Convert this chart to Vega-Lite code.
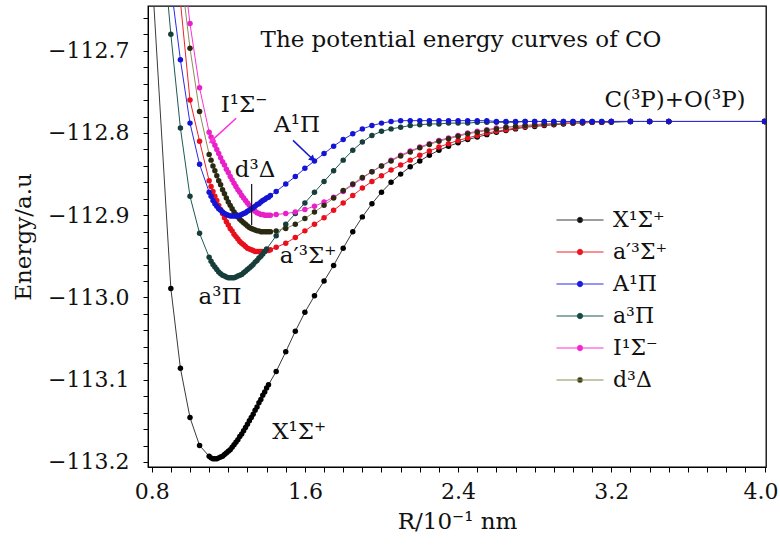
{
  "$schema": "https://vega.github.io/schema/vega-lite/v6.json",
  "width": 618,
  "height": 461,
  "autosize": {"type": "none"},
  "padding": {"left": 148, "top": 6, "right": 14, "bottom": 87},
  "background": "white",
  "config": {
    "view": {"stroke": "black", "strokeWidth": 1.3},
    "font": "DejaVu Serif",
    "axis": {"labelFont": "DejaVu Serif", "titleFont": "DejaVu Serif", "labelFontSize": 22, "titleFontSize": 23, "titleFontWeight": "normal", "labelColor": "#111", "titleColor": "#111", "tickColor": "black", "domainColor": "black", "grid": false, "tickSize": 5, "labelOverlap": false, "labelFlush": false, "labelBound": false}
  },
  "datasets": {
    "curves": [
      {"s":"X¹Σ⁺","R":0.80,"E":-112.60},{"s":"X¹Σ⁺","R":0.90,"E":-112.989},{"s":"X¹Σ⁺","R":0.95,"E":-113.086},{"s":"X¹Σ⁺","R":1.00,"E":-113.146},{"s":"X¹Σ⁺","R":1.05,"E":-113.180},
      {"s":"X¹Σ⁺","R":1.10,"E":-113.193},{"s":"X¹Σ⁺","R":1.11,"E":-113.195},{"s":"X¹Σ⁺","R":1.12,"E":-113.196},{"s":"X¹Σ⁺","R":1.13,"E":-113.196},{"s":"X¹Σ⁺","R":1.14,"E":-113.196},{"s":"X¹Σ⁺","R":1.15,"E":-113.195},{"s":"X¹Σ⁺","R":1.16,"E":-113.194},{"s":"X¹Σ⁺","R":1.17,"E":-113.193},{"s":"X¹Σ⁺","R":1.18,"E":-113.191},{"s":"X¹Σ⁺","R":1.19,"E":-113.189},{"s":"X¹Σ⁺","R":1.20,"E":-113.187},{"s":"X¹Σ⁺","R":1.21,"E":-113.185},{"s":"X¹Σ⁺","R":1.22,"E":-113.182},{"s":"X¹Σ⁺","R":1.23,"E":-113.179},{"s":"X¹Σ⁺","R":1.24,"E":-113.176},{"s":"X¹Σ⁺","R":1.25,"E":-113.173},{"s":"X¹Σ⁺","R":1.26,"E":-113.169},{"s":"X¹Σ⁺","R":1.27,"E":-113.166},{"s":"X¹Σ⁺","R":1.28,"E":-113.162},{"s":"X¹Σ⁺","R":1.29,"E":-113.158},{"s":"X¹Σ⁺","R":1.30,"E":-113.154},{"s":"X¹Σ⁺","R":1.31,"E":-113.150},{"s":"X¹Σ⁺","R":1.32,"E":-113.146},{"s":"X¹Σ⁺","R":1.33,"E":-113.142},{"s":"X¹Σ⁺","R":1.34,"E":-113.137},{"s":"X¹Σ⁺","R":1.35,"E":-113.133},{"s":"X¹Σ⁺","R":1.36,"E":-113.128},{"s":"X¹Σ⁺","R":1.37,"E":-113.124},{"s":"X¹Σ⁺","R":1.38,"E":-113.119},{"s":"X¹Σ⁺","R":1.39,"E":-113.115},{"s":"X¹Σ⁺","R":1.40,"E":-113.110},{"s":"X¹Σ⁺","R":1.41,"E":-113.106},
      {"s":"X¹Σ⁺","R":1.45,"E":-113.090},{"s":"X¹Σ⁺","R":1.50,"E":-113.066},{"s":"X¹Σ⁺","R":1.55,"E":-113.041},{"s":"X¹Σ⁺","R":1.60,"E":-113.018},{"s":"X¹Σ⁺","R":1.65,"E":-112.998},{"s":"X¹Σ⁺","R":1.70,"E":-112.980},{"s":"X¹Σ⁺","R":1.75,"E":-112.961},{"s":"X¹Σ⁺","R":1.80,"E":-112.940},{"s":"X¹Σ⁺","R":1.85,"E":-112.920},{"s":"X¹Σ⁺","R":1.90,"E":-112.902},{"s":"X¹Σ⁺","R":1.95,"E":-112.886},{"s":"X¹Σ⁺","R":2.00,"E":-112.872},{"s":"X¹Σ⁺","R":2.05,"E":-112.860},{"s":"X¹Σ⁺","R":2.10,"E":-112.850},{"s":"X¹Σ⁺","R":2.15,"E":-112.841},{"s":"X¹Σ⁺","R":2.20,"E":-112.834},{"s":"X¹Σ⁺","R":2.25,"E":-112.827},{"s":"X¹Σ⁺","R":2.30,"E":-112.821},{"s":"X¹Σ⁺","R":2.35,"E":-112.816},{"s":"X¹Σ⁺","R":2.40,"E":-112.812},{"s":"X¹Σ⁺","R":2.45,"E":-112.808},{"s":"X¹Σ⁺","R":2.50,"E":-112.805},{"s":"X¹Σ⁺","R":2.55,"E":-112.802},{"s":"X¹Σ⁺","R":2.60,"E":-112.799},{"s":"X¹Σ⁺","R":2.65,"E":-112.797},{"s":"X¹Σ⁺","R":2.70,"E":-112.795},{"s":"X¹Σ⁺","R":2.75,"E":-112.793},{"s":"X¹Σ⁺","R":2.80,"E":-112.792},{"s":"X¹Σ⁺","R":2.85,"E":-112.791},{"s":"X¹Σ⁺","R":2.90,"E":-112.790},{"s":"X¹Σ⁺","R":2.95,"E":-112.789},{"s":"X¹Σ⁺","R":3.00,"E":-112.788},{"s":"X¹Σ⁺","R":3.05,"E":-112.788},{"s":"X¹Σ⁺","R":3.10,"E":-112.787},{"s":"X¹Σ⁺","R":3.15,"E":-112.787},{"s":"X¹Σ⁺","R":3.20,"E":-112.787},{"s":"X¹Σ⁺","R":3.30,"E":-112.786},{"s":"X¹Σ⁺","R":3.40,"E":-112.786},{"s":"X¹Σ⁺","R":3.50,"E":-112.786},{"s":"X¹Σ⁺","R":4.00,"E":-112.786},

      {"s":"a′³Σ⁺","R":0.95,"E":-112.64},{"s":"a′³Σ⁺","R":1.00,"E":-112.760},{"s":"a′³Σ⁺","R":1.05,"E":-112.810},
      {"s":"a′³Σ⁺","R":1.10,"E":-112.858},{"s":"a′³Σ⁺","R":1.11,"E":-112.865},{"s":"a′³Σ⁺","R":1.12,"E":-112.871},{"s":"a′³Σ⁺","R":1.13,"E":-112.877},{"s":"a′³Σ⁺","R":1.14,"E":-112.882},{"s":"a′³Σ⁺","R":1.15,"E":-112.888},{"s":"a′³Σ⁺","R":1.16,"E":-112.893},{"s":"a′³Σ⁺","R":1.17,"E":-112.898},{"s":"a′³Σ⁺","R":1.18,"E":-112.903},{"s":"a′³Σ⁺","R":1.19,"E":-112.908},{"s":"a′³Σ⁺","R":1.20,"E":-112.912},{"s":"a′³Σ⁺","R":1.21,"E":-112.916},{"s":"a′³Σ⁺","R":1.22,"E":-112.919},{"s":"a′³Σ⁺","R":1.23,"E":-112.923},{"s":"a′³Σ⁺","R":1.24,"E":-112.926},{"s":"a′³Σ⁺","R":1.25,"E":-112.929},{"s":"a′³Σ⁺","R":1.26,"E":-112.932},{"s":"a′³Σ⁺","R":1.27,"E":-112.934},{"s":"a′³Σ⁺","R":1.28,"E":-112.936},{"s":"a′³Σ⁺","R":1.29,"E":-112.938},{"s":"a′³Σ⁺","R":1.30,"E":-112.940},{"s":"a′³Σ⁺","R":1.31,"E":-112.941},{"s":"a′³Σ⁺","R":1.32,"E":-112.942},{"s":"a′³Σ⁺","R":1.33,"E":-112.943},{"s":"a′³Σ⁺","R":1.34,"E":-112.944},{"s":"a′³Σ⁺","R":1.35,"E":-112.944},{"s":"a′³Σ⁺","R":1.36,"E":-112.944},{"s":"a′³Σ⁺","R":1.37,"E":-112.944},{"s":"a′³Σ⁺","R":1.38,"E":-112.944},{"s":"a′³Σ⁺","R":1.39,"E":-112.944},{"s":"a′³Σ⁺","R":1.40,"E":-112.943},{"s":"a′³Σ⁺","R":1.41,"E":-112.943},{"s":"a′³Σ⁺","R":1.42,"E":-112.942},
      {"s":"a′³Σ⁺","R":1.45,"E":-112.939},{"s":"a′³Σ⁺","R":1.50,"E":-112.934},{"s":"a′³Σ⁺","R":1.55,"E":-112.927},{"s":"a′³Σ⁺","R":1.60,"E":-112.919},{"s":"a′³Σ⁺","R":1.65,"E":-112.911},{"s":"a′³Σ⁺","R":1.70,"E":-112.903},{"s":"a′³Σ⁺","R":1.75,"E":-112.894},{"s":"a′³Σ⁺","R":1.80,"E":-112.885},{"s":"a′³Σ⁺","R":1.85,"E":-112.876},{"s":"a′³Σ⁺","R":1.90,"E":-112.867},{"s":"a′³Σ⁺","R":1.95,"E":-112.859},{"s":"a′³Σ⁺","R":2.00,"E":-112.852},{"s":"a′³Σ⁺","R":2.05,"E":-112.845},{"s":"a′³Σ⁺","R":2.10,"E":-112.839},{"s":"a′³Σ⁺","R":2.15,"E":-112.833},{"s":"a′³Σ⁺","R":2.20,"E":-112.827},{"s":"a′³Σ⁺","R":2.25,"E":-112.822},{"s":"a′³Σ⁺","R":2.30,"E":-112.817},{"s":"a′³Σ⁺","R":2.35,"E":-112.813},{"s":"a′³Σ⁺","R":2.40,"E":-112.809},{"s":"a′³Σ⁺","R":2.45,"E":-112.806},{"s":"a′³Σ⁺","R":2.50,"E":-112.803},{"s":"a′³Σ⁺","R":2.55,"E":-112.800},{"s":"a′³Σ⁺","R":2.60,"E":-112.798},{"s":"a′³Σ⁺","R":2.65,"E":-112.796},{"s":"a′³Σ⁺","R":2.70,"E":-112.794},{"s":"a′³Σ⁺","R":2.75,"E":-112.792},{"s":"a′³Σ⁺","R":2.80,"E":-112.791},{"s":"a′³Σ⁺","R":2.85,"E":-112.790},{"s":"a′³Σ⁺","R":2.90,"E":-112.789},{"s":"a′³Σ⁺","R":2.95,"E":-112.788},{"s":"a′³Σ⁺","R":3.00,"E":-112.788},{"s":"a′³Σ⁺","R":3.05,"E":-112.787},{"s":"a′³Σ⁺","R":3.10,"E":-112.787},{"s":"a′³Σ⁺","R":3.15,"E":-112.787},{"s":"a′³Σ⁺","R":3.20,"E":-112.786},{"s":"a′³Σ⁺","R":3.30,"E":-112.786},{"s":"a′³Σ⁺","R":3.40,"E":-112.786},{"s":"a′³Σ⁺","R":3.50,"E":-112.786},{"s":"a′³Σ⁺","R":4.00,"E":-112.786},

      {"s":"a³Π","R":0.85,"E":-112.55},{"s":"a³Π","R":0.90,"E":-112.680},{"s":"a³Π","R":0.95,"E":-112.794},{"s":"a³Π","R":1.00,"E":-112.877},{"s":"a³Π","R":1.05,"E":-112.922},
      {"s":"a³Π","R":1.10,"E":-112.951},{"s":"a³Π","R":1.11,"E":-112.956},{"s":"a³Π","R":1.12,"E":-112.960},{"s":"a³Π","R":1.13,"E":-112.963},{"s":"a³Π","R":1.14,"E":-112.966},{"s":"a³Π","R":1.15,"E":-112.969},{"s":"a³Π","R":1.16,"E":-112.971},{"s":"a³Π","R":1.17,"E":-112.973},{"s":"a³Π","R":1.18,"E":-112.974},{"s":"a³Π","R":1.19,"E":-112.975},{"s":"a³Π","R":1.20,"E":-112.976},{"s":"a³Π","R":1.21,"E":-112.976},{"s":"a³Π","R":1.22,"E":-112.976},{"s":"a³Π","R":1.23,"E":-112.976},{"s":"a³Π","R":1.24,"E":-112.975},{"s":"a³Π","R":1.25,"E":-112.974},{"s":"a³Π","R":1.26,"E":-112.973},{"s":"a³Π","R":1.27,"E":-112.972},{"s":"a³Π","R":1.28,"E":-112.970},{"s":"a³Π","R":1.29,"E":-112.968},{"s":"a³Π","R":1.30,"E":-112.966},{"s":"a³Π","R":1.31,"E":-112.964},{"s":"a³Π","R":1.32,"E":-112.962},{"s":"a³Π","R":1.33,"E":-112.960},{"s":"a³Π","R":1.34,"E":-112.957},{"s":"a³Π","R":1.35,"E":-112.955},{"s":"a³Π","R":1.36,"E":-112.952},{"s":"a³Π","R":1.37,"E":-112.950},{"s":"a³Π","R":1.38,"E":-112.947},{"s":"a³Π","R":1.39,"E":-112.944},{"s":"a³Π","R":1.40,"E":-112.941},
      {"s":"a³Π","R":1.45,"E":-112.925},{"s":"a³Π","R":1.50,"E":-112.911},{"s":"a³Π","R":1.55,"E":-112.898},{"s":"a³Π","R":1.60,"E":-112.885},{"s":"a³Π","R":1.65,"E":-112.872},{"s":"a³Π","R":1.70,"E":-112.859},{"s":"a³Π","R":1.75,"E":-112.846},{"s":"a³Π","R":1.80,"E":-112.833},{"s":"a³Π","R":1.85,"E":-112.821},{"s":"a³Π","R":1.90,"E":-112.811},{"s":"a³Π","R":1.95,"E":-112.803},{"s":"a³Π","R":2.00,"E":-112.798},{"s":"a³Π","R":2.05,"E":-112.795},{"s":"a³Π","R":2.10,"E":-112.793},{"s":"a³Π","R":2.15,"E":-112.791},{"s":"a³Π","R":2.20,"E":-112.790},{"s":"a³Π","R":2.25,"E":-112.789},{"s":"a³Π","R":2.30,"E":-112.789},{"s":"a³Π","R":2.35,"E":-112.788},{"s":"a³Π","R":2.40,"E":-112.788},{"s":"a³Π","R":2.45,"E":-112.788},{"s":"a³Π","R":2.50,"E":-112.787},{"s":"a³Π","R":2.55,"E":-112.787},{"s":"a³Π","R":2.60,"E":-112.787},{"s":"a³Π","R":2.65,"E":-112.787},{"s":"a³Π","R":2.70,"E":-112.787},{"s":"a³Π","R":2.75,"E":-112.786},{"s":"a³Π","R":2.80,"E":-112.786},{"s":"a³Π","R":2.85,"E":-112.786},{"s":"a³Π","R":2.90,"E":-112.786},{"s":"a³Π","R":2.95,"E":-112.786},{"s":"a³Π","R":3.00,"E":-112.786},{"s":"a³Π","R":3.05,"E":-112.786},{"s":"a³Π","R":3.10,"E":-112.786},{"s":"a³Π","R":3.15,"E":-112.786},{"s":"a³Π","R":3.20,"E":-112.786},{"s":"a³Π","R":3.30,"E":-112.786},{"s":"a³Π","R":3.40,"E":-112.786},{"s":"a³Π","R":3.50,"E":-112.786},{"s":"a³Π","R":4.00,"E":-112.786},

      {"s":"I¹Σ⁻","R":0.95,"E":-112.57},{"s":"I¹Σ⁻","R":1.00,"E":-112.667},{"s":"I¹Σ⁻","R":1.05,"E":-112.745},
      {"s":"I¹Σ⁻","R":1.10,"E":-112.799},{"s":"I¹Σ⁻","R":1.11,"E":-112.805},{"s":"I¹Σ⁻","R":1.12,"E":-112.810},{"s":"I¹Σ⁻","R":1.13,"E":-112.815},{"s":"I¹Σ⁻","R":1.14,"E":-112.820},{"s":"I¹Σ⁻","R":1.15,"E":-112.825},{"s":"I¹Σ⁻","R":1.16,"E":-112.830},{"s":"I¹Σ⁻","R":1.17,"E":-112.835},{"s":"I¹Σ⁻","R":1.18,"E":-112.839},{"s":"I¹Σ⁻","R":1.19,"E":-112.844},{"s":"I¹Σ⁻","R":1.20,"E":-112.848},{"s":"I¹Σ⁻","R":1.21,"E":-112.853},{"s":"I¹Σ⁻","R":1.22,"E":-112.857},{"s":"I¹Σ⁻","R":1.23,"E":-112.861},{"s":"I¹Σ⁻","R":1.24,"E":-112.865},{"s":"I¹Σ⁻","R":1.25,"E":-112.869},{"s":"I¹Σ⁻","R":1.26,"E":-112.872},{"s":"I¹Σ⁻","R":1.27,"E":-112.876},{"s":"I¹Σ⁻","R":1.28,"E":-112.879},{"s":"I¹Σ⁻","R":1.29,"E":-112.882},{"s":"I¹Σ⁻","R":1.30,"E":-112.885},{"s":"I¹Σ⁻","R":1.31,"E":-112.888},{"s":"I¹Σ⁻","R":1.32,"E":-112.891},{"s":"I¹Σ⁻","R":1.33,"E":-112.893},{"s":"I¹Σ⁻","R":1.34,"E":-112.895},{"s":"I¹Σ⁻","R":1.35,"E":-112.897},{"s":"I¹Σ⁻","R":1.36,"E":-112.898},{"s":"I¹Σ⁻","R":1.37,"E":-112.899},{"s":"I¹Σ⁻","R":1.38,"E":-112.899},{"s":"I¹Σ⁻","R":1.39,"E":-112.900},{"s":"I¹Σ⁻","R":1.40,"E":-112.900},{"s":"I¹Σ⁻","R":1.41,"E":-112.900},{"s":"I¹Σ⁻","R":1.42,"E":-112.900},
      {"s":"I¹Σ⁻","R":1.45,"E":-112.899},{"s":"I¹Σ⁻","R":1.50,"E":-112.898},{"s":"I¹Σ⁻","R":1.55,"E":-112.896},{"s":"I¹Σ⁻","R":1.60,"E":-112.893},{"s":"I¹Σ⁻","R":1.65,"E":-112.889},{"s":"I¹Σ⁻","R":1.70,"E":-112.884},{"s":"I¹Σ⁻","R":1.75,"E":-112.878},{"s":"I¹Σ⁻","R":1.80,"E":-112.871},{"s":"I¹Σ⁻","R":1.85,"E":-112.863},{"s":"I¹Σ⁻","R":1.90,"E":-112.855},{"s":"I¹Σ⁻","R":1.95,"E":-112.847},{"s":"I¹Σ⁻","R":2.00,"E":-112.840},{"s":"I¹Σ⁻","R":2.05,"E":-112.833},{"s":"I¹Σ⁻","R":2.10,"E":-112.827},{"s":"I¹Σ⁻","R":2.15,"E":-112.822},{"s":"I¹Σ⁻","R":2.20,"E":-112.817},{"s":"I¹Σ⁻","R":2.25,"E":-112.813},{"s":"I¹Σ⁻","R":2.30,"E":-112.809},{"s":"I¹Σ⁻","R":2.35,"E":-112.806},{"s":"I¹Σ⁻","R":2.40,"E":-112.803},{"s":"I¹Σ⁻","R":2.45,"E":-112.800},{"s":"I¹Σ⁻","R":2.50,"E":-112.798},{"s":"I¹Σ⁻","R":2.55,"E":-112.796},{"s":"I¹Σ⁻","R":2.60,"E":-112.794},{"s":"I¹Σ⁻","R":2.65,"E":-112.793},{"s":"I¹Σ⁻","R":2.70,"E":-112.792},{"s":"I¹Σ⁻","R":2.75,"E":-112.791},{"s":"I¹Σ⁻","R":2.80,"E":-112.790},{"s":"I¹Σ⁻","R":2.85,"E":-112.789},{"s":"I¹Σ⁻","R":2.90,"E":-112.789},{"s":"I¹Σ⁻","R":2.95,"E":-112.788},{"s":"I¹Σ⁻","R":3.00,"E":-112.788},{"s":"I¹Σ⁻","R":3.05,"E":-112.787},{"s":"I¹Σ⁻","R":3.10,"E":-112.787},{"s":"I¹Σ⁻","R":3.15,"E":-112.787},{"s":"I¹Σ⁻","R":3.20,"E":-112.786},{"s":"I¹Σ⁻","R":3.30,"E":-112.786},{"s":"I¹Σ⁻","R":3.40,"E":-112.786},{"s":"I¹Σ⁻","R":3.50,"E":-112.786},{"s":"I¹Σ⁻","R":4.00,"E":-112.786},

      {"s":"d³Δ","R":0.95,"E":-112.60},{"s":"d³Δ","R":1.00,"E":-112.697},{"s":"d³Δ","R":1.05,"E":-112.774},
      {"s":"d³Δ","R":1.10,"E":-112.826},{"s":"d³Δ","R":1.11,"E":-112.833},{"s":"d³Δ","R":1.12,"E":-112.840},{"s":"d³Δ","R":1.13,"E":-112.846},{"s":"d³Δ","R":1.14,"E":-112.852},{"s":"d³Δ","R":1.15,"E":-112.858},{"s":"d³Δ","R":1.16,"E":-112.863},{"s":"d³Δ","R":1.17,"E":-112.869},{"s":"d³Δ","R":1.18,"E":-112.874},{"s":"d³Δ","R":1.19,"E":-112.879},{"s":"d³Δ","R":1.20,"E":-112.884},{"s":"d³Δ","R":1.21,"E":-112.888},{"s":"d³Δ","R":1.22,"E":-112.892},{"s":"d³Δ","R":1.23,"E":-112.896},{"s":"d³Δ","R":1.24,"E":-112.899},{"s":"d³Δ","R":1.25,"E":-112.902},{"s":"d³Δ","R":1.26,"E":-112.905},{"s":"d³Δ","R":1.27,"E":-112.907},{"s":"d³Δ","R":1.28,"E":-112.909},{"s":"d³Δ","R":1.29,"E":-112.911},{"s":"d³Δ","R":1.30,"E":-112.913},{"s":"d³Δ","R":1.31,"E":-112.915},{"s":"d³Δ","R":1.32,"E":-112.916},{"s":"d³Δ","R":1.33,"E":-112.917},{"s":"d³Δ","R":1.34,"E":-112.918},{"s":"d³Δ","R":1.35,"E":-112.919},{"s":"d³Δ","R":1.36,"E":-112.919},{"s":"d³Δ","R":1.37,"E":-112.920},{"s":"d³Δ","R":1.38,"E":-112.920},{"s":"d³Δ","R":1.39,"E":-112.920},{"s":"d³Δ","R":1.40,"E":-112.920},{"s":"d³Δ","R":1.41,"E":-112.920},{"s":"d³Δ","R":1.42,"E":-112.920},
      {"s":"d³Δ","R":1.45,"E":-112.919},{"s":"d³Δ","R":1.50,"E":-112.916},{"s":"d³Δ","R":1.55,"E":-112.911},{"s":"d³Δ","R":1.60,"E":-112.904},{"s":"d³Δ","R":1.65,"E":-112.896},{"s":"d³Δ","R":1.70,"E":-112.888},{"s":"d³Δ","R":1.75,"E":-112.879},{"s":"d³Δ","R":1.80,"E":-112.870},{"s":"d³Δ","R":1.85,"E":-112.862},{"s":"d³Δ","R":1.90,"E":-112.854},{"s":"d³Δ","R":1.95,"E":-112.847},{"s":"d³Δ","R":2.00,"E":-112.840},{"s":"d³Δ","R":2.05,"E":-112.834},{"s":"d³Δ","R":2.10,"E":-112.828},{"s":"d³Δ","R":2.15,"E":-112.823},{"s":"d³Δ","R":2.20,"E":-112.818},{"s":"d³Δ","R":2.25,"E":-112.814},{"s":"d³Δ","R":2.30,"E":-112.810},{"s":"d³Δ","R":2.35,"E":-112.807},{"s":"d³Δ","R":2.40,"E":-112.804},{"s":"d³Δ","R":2.45,"E":-112.801},{"s":"d³Δ","R":2.50,"E":-112.799},{"s":"d³Δ","R":2.55,"E":-112.797},{"s":"d³Δ","R":2.60,"E":-112.795},{"s":"d³Δ","R":2.65,"E":-112.793},{"s":"d³Δ","R":2.70,"E":-112.792},{"s":"d³Δ","R":2.75,"E":-112.791},{"s":"d³Δ","R":2.80,"E":-112.790},{"s":"d³Δ","R":2.85,"E":-112.789},{"s":"d³Δ","R":2.90,"E":-112.789},{"s":"d³Δ","R":2.95,"E":-112.788},{"s":"d³Δ","R":3.00,"E":-112.788},{"s":"d³Δ","R":3.05,"E":-112.787},{"s":"d³Δ","R":3.10,"E":-112.787},{"s":"d³Δ","R":3.15,"E":-112.787},{"s":"d³Δ","R":3.20,"E":-112.786},{"s":"d³Δ","R":3.30,"E":-112.786},{"s":"d³Δ","R":3.40,"E":-112.786},{"s":"d³Δ","R":3.50,"E":-112.786},{"s":"d³Δ","R":4.00,"E":-112.786},

      {"s":"A¹Π","R":0.90,"E":-112.62},{"s":"A¹Π","R":0.95,"E":-112.711},{"s":"A¹Π","R":1.00,"E":-112.788},{"s":"A¹Π","R":1.05,"E":-112.838},
      {"s":"A¹Π","R":1.10,"E":-112.872},{"s":"A¹Π","R":1.11,"E":-112.877},{"s":"A¹Π","R":1.12,"E":-112.882},{"s":"A¹Π","R":1.13,"E":-112.886},{"s":"A¹Π","R":1.14,"E":-112.889},{"s":"A¹Π","R":1.15,"E":-112.892},{"s":"A¹Π","R":1.16,"E":-112.894},{"s":"A¹Π","R":1.17,"E":-112.896},{"s":"A¹Π","R":1.18,"E":-112.898},{"s":"A¹Π","R":1.19,"E":-112.899},{"s":"A¹Π","R":1.20,"E":-112.900},{"s":"A¹Π","R":1.21,"E":-112.901},{"s":"A¹Π","R":1.22,"E":-112.901},{"s":"A¹Π","R":1.23,"E":-112.901},{"s":"A¹Π","R":1.24,"E":-112.901},{"s":"A¹Π","R":1.25,"E":-112.901},{"s":"A¹Π","R":1.26,"E":-112.900},{"s":"A¹Π","R":1.27,"E":-112.899},{"s":"A¹Π","R":1.28,"E":-112.898},{"s":"A¹Π","R":1.29,"E":-112.897},{"s":"A¹Π","R":1.30,"E":-112.895},{"s":"A¹Π","R":1.31,"E":-112.894},{"s":"A¹Π","R":1.32,"E":-112.892},{"s":"A¹Π","R":1.33,"E":-112.891},{"s":"A¹Π","R":1.34,"E":-112.889},{"s":"A¹Π","R":1.35,"E":-112.887},{"s":"A¹Π","R":1.36,"E":-112.886},{"s":"A¹Π","R":1.37,"E":-112.884},{"s":"A¹Π","R":1.38,"E":-112.882},{"s":"A¹Π","R":1.39,"E":-112.881},{"s":"A¹Π","R":1.40,"E":-112.879},{"s":"A¹Π","R":1.41,"E":-112.878},{"s":"A¹Π","R":1.42,"E":-112.876},
      {"s":"A¹Π","R":1.45,"E":-112.871},{"s":"A¹Π","R":1.50,"E":-112.862},{"s":"A¹Π","R":1.55,"E":-112.853},{"s":"A¹Π","R":1.60,"E":-112.843},{"s":"A¹Π","R":1.65,"E":-112.834},{"s":"A¹Π","R":1.70,"E":-112.825},{"s":"A¹Π","R":1.75,"E":-112.816},{"s":"A¹Π","R":1.80,"E":-112.808},{"s":"A¹Π","R":1.85,"E":-112.801},{"s":"A¹Π","R":1.90,"E":-112.795},{"s":"A¹Π","R":1.95,"E":-112.791},{"s":"A¹Π","R":2.00,"E":-112.788},{"s":"A¹Π","R":2.05,"E":-112.786},{"s":"A¹Π","R":2.10,"E":-112.785},{"s":"A¹Π","R":2.15,"E":-112.785},{"s":"A¹Π","R":2.20,"E":-112.785},{"s":"A¹Π","R":2.25,"E":-112.785},{"s":"A¹Π","R":2.30,"E":-112.785},{"s":"A¹Π","R":2.35,"E":-112.785},{"s":"A¹Π","R":2.40,"E":-112.785},{"s":"A¹Π","R":2.45,"E":-112.785},{"s":"A¹Π","R":2.50,"E":-112.785},{"s":"A¹Π","R":2.55,"E":-112.785},{"s":"A¹Π","R":2.60,"E":-112.786},{"s":"A¹Π","R":2.65,"E":-112.786},{"s":"A¹Π","R":2.70,"E":-112.786},{"s":"A¹Π","R":2.75,"E":-112.786},{"s":"A¹Π","R":2.80,"E":-112.786},{"s":"A¹Π","R":2.85,"E":-112.786},{"s":"A¹Π","R":2.90,"E":-112.786},{"s":"A¹Π","R":2.95,"E":-112.786},{"s":"A¹Π","R":3.00,"E":-112.786},{"s":"A¹Π","R":3.05,"E":-112.786},{"s":"A¹Π","R":3.10,"E":-112.786},{"s":"A¹Π","R":3.15,"E":-112.786},{"s":"A¹Π","R":3.20,"E":-112.786},{"s":"A¹Π","R":3.30,"E":-112.786},{"s":"A¹Π","R":3.40,"E":-112.786},{"s":"A¹Π","R":3.50,"E":-112.786},{"s":"A¹Π","R":4.00,"E":-112.786}
    ],
    "labels": [
      {"t":"The potential energy curves of CO","R":2.415,"E":-112.687},
      {"t":"C(³P)+O(³P)","R":3.533,"E":-112.760},
      {"t":"I¹Σ⁻","R":1.282,"E":-112.766},
      {"t":"A¹Π","R":1.559,"E":-112.790},
      {"t":"d³Δ","R":1.340,"E":-112.845},
      {"t":"a′³Σ⁺","R":1.617,"E":-112.950},
      {"t":"a³Π","R":1.157,"E":-112.999},
      {"t":"X¹Σ⁺","R":1.570,"E":-113.163}
    ]
  },
  "encoding": {
    "x": {"field": "R", "type": "quantitative",
      "scale": {"domain": [0.7807, 4.0078], "nice": false, "zero": false},
      "axis": {"title": "R/10⁻¹ nm", "titlePadding": 8, "labelPadding": 9,
        "labelOffset": {"condition": {"test": "datum.value > 3.95", "value": -4}, "value": 0},
        "values": [0.8,0.9,1.0,1.1,1.2,1.3,1.4,1.5,1.6,1.7,1.8,1.9,2.0,2.1,2.2,2.3,2.4,2.5,2.6,2.7,2.8,2.9,3.0,3.1,3.2,3.3,3.4,3.5,3.6,3.7,3.8,3.9,4.0],
        "labelExpr": "abs(datum.value/0.8 - round(datum.value/0.8)) < 0.001 ? format(datum.value, '.1f') : ''"}},
    "y": {"field": "E", "type": "quantitative",
      "scale": {"domain": [-113.2061, -112.6456], "nice": false, "zero": false},
      "axis": {"title": "Energy/a.u", "titlePadding": 12, "labelPadding": 14,
        "values": [-113.2,-113.18,-113.16,-113.14,-113.12,-113.1,-113.08,-113.06,-113.04,-113.02,-113.0,-112.98,-112.96,-112.94,-112.92,-112.9,-112.88,-112.86,-112.84,-112.82,-112.8,-112.78,-112.76,-112.74,-112.72,-112.7,-112.68,-112.66],
        "labelExpr": "abs(datum.value*10 - round(datum.value*10)) < 0.001 ? format(datum.value, '.1f') : ''"}}
  },
  "layer": [
    {
      "data": {"name": "curves"},
      "mark": {"type": "line", "strokeWidth": 1, "clip": true},
      "encoding": {
        "color": {"field": "s", "type": "nominal",
          "scale": {"domain": ["X¹Σ⁺","a′³Σ⁺","A¹Π","a³Π","I¹Σ⁻","d³Δ"], "range": ["#3a3a3a","#f0202a","#2a2ae8","#1d5a55","#ff30d8","#8c8c5a"]},
          "legend": {"orient": "none", "legendX": 421, "legendY": 203, "title": null, "padding": 0,
            "symbolType": "M-2.35,0L2.35,0M0.27,0A0.27,0.27,0,1,1,-0.27,0A0.27,0.27,0,1,1,0.27,0",
            "symbolSize": 400, "symbolStrokeWidth": 1,
            "labelFont": "DejaVu Serif", "labelFontSize": 22, "labelColor": "#111", "labelOffset": 22, "rowPadding": 10,
            "encode": {"symbols": {"update": {"stroke": {"scale": "color", "field": "value"}, "fill": {"scale": "fill", "field": "value"}}}}}}
      }
    },
    {
      "data": {"name": "curves"},
      "mark": {"type": "circle", "size": 30, "clip": true, "opacity": 1},
      "encoding": {
        "fill": {"field": "s", "type": "nominal",
          "scale": {"domain": ["X¹Σ⁺","a′³Σ⁺","A¹Π","a³Π","I¹Σ⁻","d³Δ"], "range": ["#000000","#e8101c","#1414d4","#173e3a","#e820c8","#2a2a12"]},
          "legend": null}
      }
    },
    {
      "data": {"values": [{"R": 1.241, "E": -112.782, "R2": 1.115, "E2": -112.809}]},
      "mark": {"type": "rule", "color": "#ff30d8", "strokeWidth": 1.5},
      "encoding": {"x2": {"field": "R2"}, "y2": {"field": "E2"}}
    },
    {
      "data": {"values": [{"R": 1.115, "E": -112.809}]},
      "mark": {"type": "point", "shape": "triangle", "filled": true, "size": 50, "angle": 227, "color": "#ff30d8", "opacity": 1},
      "encoding": {}
    },
    {
      "data": {"values": [{"R": 1.538, "E": -112.809, "R2": 1.637, "E2": -112.831}]},
      "mark": {"type": "rule", "color": "#1414d4", "strokeWidth": 1.5},
      "encoding": {"x2": {"field": "R2"}, "y2": {"field": "E2"}}
    },
    {
      "data": {"values": [{"R": 1.637, "E": -112.831}]},
      "mark": {"type": "point", "shape": "triangle", "filled": true, "size": 50, "angle": 133, "color": "#1414d4", "opacity": 1},
      "encoding": {}
    },
    {
      "data": {"values": [{"R": 1.322, "E": -112.862, "R2": 1.322, "E2": -112.912}]},
      "mark": {"type": "rule", "color": "#111", "strokeWidth": 1.2},
      "encoding": {"x2": {"field": "R2"}, "y2": {"field": "E2"}}
    },
    {
      "data": {"name": "labels"},
      "mark": {"type": "text", "font": "DejaVu Serif", "fontSize": 23, "color": "#111", "align": "center", "baseline": "middle"},
      "encoding": {"text": {"field": "t"}}
    }
  ]
}
